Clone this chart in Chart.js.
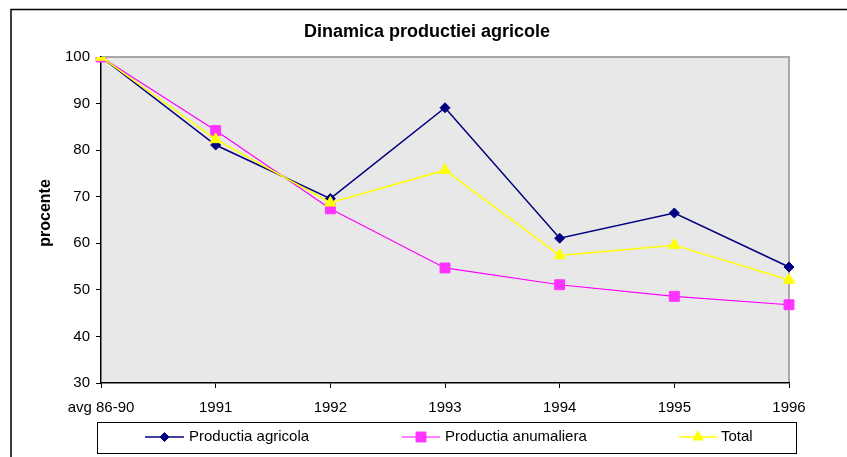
<!DOCTYPE html>
<html>
<head>
<meta charset="utf-8">
<script src="https://cdn.jsdelivr.net/npm/chart.js@4.4.1/dist/chart.umd.min.js"></script>
<style>
html,body{margin:0;padding:0;background:#fff;}
#wrap{width:847px;height:457px;position:relative;}
</style>
</head>
<body>
<div id="wrap"><canvas id="c" width="847" height="457"></canvas></div>
<script>
const chartTitle = "Dinamica productiei agricole";
const yAxisTitle = "procente";
const categories = ["avg 86-90", "1991", "1992", "1993", "1994", "1995", "1996"];
const productiaAgricola = [100, 81.1, 69.6, 89.1, 61.1, 66.5, 54.9];
const productiaAnumaliera = [100, 84.2, 67.4, 54.7, 51.1, 48.6, 46.8];
const total = [100, 82.3, 68.7, 75.7, 57.4, 59.6, 52.1];
const seriesNames = ["Productia agricola", "Productia anumaliera", "Total"];
const yTicks = [30, 40, 50, 60, 70, 80, 90, 100];

const FONT = "'Liberation Sans', Arial, sans-serif";

const decor = {
  id: 'decor',
  beforeDraw(chart) {
    const {ctx, chartArea: a} = chart;
    ctx.save();
    ctx.fillStyle = '#fff';
    ctx.fillRect(0, 0, chart.width, chart.height);
    ctx.strokeStyle = '#000';
    ctx.lineWidth = 1.5;
    ctx.strokeRect(11, 9.5, 900, 500);
    ctx.fillStyle = '#E8E8E8';
    ctx.fillRect(a.left, a.top, a.right - a.left, a.bottom - a.top);
    ctx.strokeStyle = '#A8A8A8';
    ctx.lineWidth = 2;
    ctx.beginPath();
    ctx.moveTo(a.left, a.top);
    ctx.lineTo(a.right, a.top);
    ctx.lineTo(a.right, a.bottom);
    ctx.stroke();
    ctx.fillStyle = '#000';
    ctx.font = "bold 18px " + FONT;
    ctx.textAlign = 'center';
    ctx.textBaseline = 'middle';
    ctx.fillText(chartTitle, 427, 32);
    ctx.save();
    ctx.translate(46, 213);
    ctx.rotate(-Math.PI / 2);
    ctx.font = "bold 16px " + FONT;
    ctx.fillText(yAxisTitle, 0, 0);
    ctx.restore();
    ctx.restore();
  },
  afterDraw(chart) {
    const {ctx} = chart;
    ctx.save();
    ctx.strokeStyle = '#000';
    ctx.lineWidth = 1;
    ctx.strokeRect(97.5, 422.5, 699, 31);
    const pos = [[145, 184, 189], [402, 440, 445], [679, 717, 721]];
    const yc = 437;
    chart.data.datasets.forEach((ds, i) => {
      const [x0, x1, tx] = pos[i];
      ctx.strokeStyle = ds.borderColor;
      ctx.lineWidth = ds.borderWidth;
      ctx.beginPath();
      ctx.moveTo(x0, yc);
      ctx.lineTo(x1, yc);
      ctx.stroke();
      ctx.fillStyle = ds.backgroundColor;
      ctx.strokeStyle = ds.pointBorderColor;
      ctx.lineWidth = 1;
      Chart.helpers.drawPoint(ctx, {pointStyle: ds.pointStyle, radius: ds.legendRadius, borderWidth: 1, rotation: 0}, (x0 + x1) / 2, yc);
      ctx.fillStyle = '#000';
      ctx.font = "15px " + FONT;
      ctx.textAlign = 'left';
      ctx.textBaseline = 'middle';
      ctx.fillText(ds.label, tx, yc);
    });
    ctx.restore();
  }
};

const datasets = [
  {label: seriesNames[0], data: productiaAgricola, borderColor: '#000080', backgroundColor: '#000080', pointBorderColor: '#000080',
   pointStyle: 'rectRot', pointRadius: 5, legendRadius: 4.5, pointBorderWidth: 1, borderWidth: 1.5, order: 2},
  {label: seriesNames[1], data: productiaAnumaliera, borderColor: '#FF00FF', backgroundColor: '#FF33FF', pointBorderColor: '#FF33FF',
   pointStyle: 'rect', pointRadius: 7, legendRadius: 7, pointBorderWidth: 1, borderWidth: 1.2, order: 1},
  {label: seriesNames[2], data: total, borderColor: '#FFFF00', backgroundColor: '#FFFF00', pointBorderColor: '#FFFF00',
   pointStyle: 'triangle', pointRadius: 6.5, legendRadius: 6, pointBorderWidth: 1, borderWidth: 1.5, order: 0}
];

new Chart(document.getElementById('c'), {
  type: 'line',
  data: {labels: categories, datasets: datasets.map(d => Object.assign({tension: 0, fill: false}, d))},
  options: {
    responsive: false,
    animation: false,
    layout: {padding: {left: 0, right: 58, top: 57, bottom: 0}},
    plugins: {legend: {display: false}, title: {display: false}, tooltip: {enabled: false}},
    scales: {
      x: {
        offset: false,
        afterFit: s => { s.height = 74; },
        grid: {display: true, drawOnChartArea: false, drawTicks: true, tickLength: 5, color: '#000', tickWidth: 1},
        border: {display: true, color: '#000', width: 1.5},
        ticks: {color: '#000', font: {family: FONT, size: 15}, padding: 11, maxRotation: 0, autoSkip: false}
      },
      y: {
        min: 30, max: 100,
        afterFit: s => { s.width = 101; },
        afterBuildTicks: s => { s.ticks = yTicks.map(v => ({value: v})); },
        grid: {display: true, drawOnChartArea: false, drawTicks: true, tickLength: 5, color: '#000', tickWidth: 1},
        border: {display: true, color: '#000', width: 1.5},
        ticks: {color: '#000', font: {family: FONT, size: 15}, padding: 6}
      }
    }
  },
  plugins: [decor]
});
</script>
</body>
</html>
